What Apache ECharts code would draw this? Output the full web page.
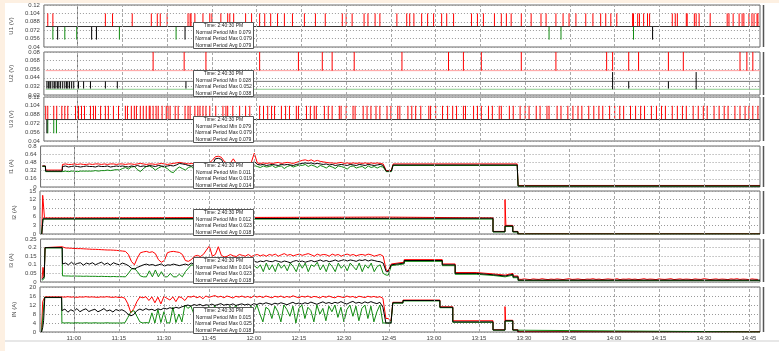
<!DOCTYPE html>
<html>
<head>
<meta charset="utf-8">
<script src="https://cdn.jsdelivr.net/npm/echarts@6/dist/echarts.min.js"></script>
<style>
  html, body { margin: 0; padding: 0; background: #fdf0e2; }
  #main { width: 779px; height: 351px; }
</style>
</head>
<body>
<div id="main"></div>
<script>
// time is in minutes after 11:00
const tickMinutes = [0, 15, 30, 45, 60, 75, 90, 105, 120, 135, 150, 165, 180, 195, 210, 225];
const tickLabels = ['11:00', '11:15', '11:30', '11:45', '12:00', '12:15', '12:30', '12:45',
  '13:00', '13:15', '13:30', '13:45', '14:00', '14:15', '14:30', '14:45'];

const panelNames = ['U1 (V)', 'U2 (V)', 'U3 (V)', 'I1 (A)', 'I2 (A)', 'I3 (A)', 'IN (A)'];
const yMin = [0.04, 0.02, 0.04, 0, 0, 0, 0];
const yMax = [0.12, 0.08, 0.12, 0.8, 15, 0.25, 20];
const yStep = [0.016, 0.012, 0.016, 0.16, 3, 0.05, 4];

// readout boxes
const boxTime = 'Time: 2:40:30 PM';
const boxMin = ['0.079', '0.028', '0.079', '0.011', '0.012', '0.014', '0.015'];
const boxMax = ['0.079', '0.052', '0.079', '0.019', '0.023', '0.023', '0.025'];
const boxAvg = ['0.079', '0.038', '0.079', '0.014', '0.018', '0.018', '0.018'];

const tStart = -10.7, tEnd = 228.7;

// U1: flat level with spikes
const u1Level = 0.079, u1High = 0.104, u1Low = 0.054;
const u1MaxSpikes = [-10, -8.3, 9.3, 11.7, 18.3, 24.7, 26.7, 27.7, 30, 37, 37.7, 38, 39.3, 42, 44.3, 45, 48, 50.3, 51, 52.3,
  56.3, 58.3, 61, 62.7, 64.7, 67, 69.3, 72, 76, 79.7, 83, 88.7, 90, 92, 96, 97.3, 99.7, 101.3, 107, 110.3, 111.3, 112.7,
  115.3, 117.3, 119.3, 122, 123.7, 126, 132, 134, 136, 139.7, 142, 143.7, 145.3, 148.7, 152, 155.3, 157, 160.3, 162.7,
  164.7, 167, 170.3, 172.7, 175.3, 177, 178.7, 180.7, 186, 186.3, 187.7, 188.3, 189.7, 191, 191.7, 199.3, 200.3, 201,
  204, 204.3, 206.7, 207.3, 208.3, 212, 217.7, 218.3, 219.7, 221.7, 222.7, 223.3, 225, 226, 226.7, 227.7, 228];
const u1MinGreenSpikes = [-8.3, -4.3, -0.3, 14, 33, 158, 162, 186.3];
const u1MinBlackSpikes = [-6.7, 4.7, 6.3, 36, 192.7];

// U2
const u2MaxLevel = 0.054, u2MaxHigh = 0.08, u2AvgLevel = 0.039, u2AvgLow = 0.029, u2MinLevel = 0.028, u2TallHigh = 0.052;
const u2MaxSpikes = [25.3, 35.7, 43, 61, 74, 82, 85.3, 92.7, 108.7, 124.3, 129.3, 135.3, 148.7, 160.3,
  177.3, 179.3, 184.7, 188, 198, 203, 222, 224.3, 226.3];
const u2AvgSpikes = [-10.3, -9.8, -9.3, -9, -8.3, -7.8, -7.3, -6.7, -6.3, -5.7, -5, -4.3, -3.7, -3.3, -2.7, -2, -1.3,
  0.3, 2, 4.3, 9.3, 13.3, 36.3, 184.7, 198];
const u2TallSpikes = [179.3, 207.3];

// U3
const u3Level = 0.079, u3High = 0.104, u3Low = 0.054;
const u3MaxSpikes = [-10.7, -10, -8, -7, -5.3, -4.3, -3.3, -0.7, 0.3, 1.3, 2.3, 4.3, 5.3, 6, 7.7, 9.3, 10.3, 12, 13.7,
  16, 16.7, 18, 19, 19.7, 21, 22, 23, 24, 24.3, 25.3, 26.3, 27, 28.3, 29.7, 30.3, 31, 32.7, 33.7, 36, 37, 37.7, 39.3,
  40.3, 41, 42, 43, 44.3, 46.3, 48.7, 49.7, 50.3, 52, 54.3, 56.3, 57.7, 61, 62.3, 63.7, 65, 66, 68.3, 69.7, 71, 73.3,
  74, 76.7, 78, 79.3, 80, 82.7, 84, 85.3, 87.7, 88.3, 90, 92.3, 93, 95.7, 97, 98.3, 100, 101.3, 103.7, 105, 107.3, 108,
  110.7, 112, 113.3, 115, 117.7, 118.3, 120, 122.3, 124, 125.7, 127, 129.3, 130, 132.7, 134, 135.3, 137.7, 139, 141.3,
  142, 144.7, 146, 148.3, 150, 151.3, 153.7, 155, 157.3, 158, 160.7, 162, 164.3, 166, 167.7, 169, 171.3, 173, 174.7,
  176, 178.3, 180, 181.7, 183, 185.3, 187, 188.7, 190, 192.3, 194, 195.7, 197, 199.3, 201, 202.7, 204, 206.3, 208,
  209.7, 211, 213.3, 215, 216.7, 218, 220.3, 222, 223.7, 225, 226.3, 228];
const u3MinGreenSpikes = [-10.0, -8, -7.1];
const u3MinBlackSpikes = [-10.3];

// noisy currents: one value per minute from minute -4 to 104
const minuteStart = -4;

const i1Max = [0.44,0.45,0.44,0.44,0.45,0.44,0.45,0.44,0.44,0.45, 0.44,0.45,0.45,0.44,0.45,0.44,0.45,0.45,0.44,0.45,
  0.45,0.44,0.45,0.45,0.44,0.45,0.46,0.45,0.44,0.45, 0.45,0.44,0.45,0.46,0.45,0.44,0.45,0.46,0.47,0.48,
  0.47,0.46,0.45,0.46,0.45,0.46,0.47,0.46,0.45,0.47, 0.52,0.59,0.60,0.58,0.50,0.46,0.47,0.55,0.46,0.45,
  0.46,0.47,0.46,0.48,0.66,0.47,0.46,0.47,0.46,0.47, 0.46,0.47,0.48,0.46,0.47,0.48,0.47,0.46,0.48,0.50,
  0.52,0.53,0.51,0.53,0.50,0.52,0.50,0.49,0.48,0.47, 0.47,0.46,0.47,0.48,0.46,0.47,0.46,0.47,0.46,0.47,
  0.46,0.47,0.46,0.47,0.46,0.47,0.46,0.45,0.32];
const i1Avg = [0.40,0.41,0.39,0.40,0.41,0.40,0.39,0.40,0.41,0.40, 0.40,0.39,0.41,0.40,0.40,0.41,0.39,0.40,0.41,0.40,
  0.41,0.40,0.39,0.41,0.40,0.42,0.40,0.41,0.40,0.42, 0.41,0.40,0.42,0.41,0.40,0.41,0.42,0.41,0.43,0.46,
  0.45,0.44,0.42,0.41,0.42,0.43,0.42,0.43,0.44,0.42, 0.43,0.55,0.56,0.54,0.44,0.43,0.42,0.44,0.43,0.42,
  0.43,0.44,0.42,0.43,0.50,0.44,0.43,0.44,0.42,0.43, 0.44,0.43,0.42,0.44,0.43,0.44,0.43,0.42,0.44,0.45,
  0.46,0.47,0.46,0.47,0.45,0.46,0.45,0.44,0.45,0.43, 0.44,0.42,0.43,0.44,0.43,0.42,0.44,0.43,0.42,0.44,
  0.43,0.42,0.44,0.43,0.42,0.43,0.44,0.42,0.31];
const i1Min = [0.31,0.31,0.30,0.31,0.31,0.30,0.31,0.31,0.31,0.31, 0.31,0.32,0.31,0.32,0.32,0.33,0.32,0.33,0.34,0.33,
  0.36,0.38,0.35,0.39,0.40,0.34,0.30,0.36,0.40,0.41, 0.38,0.33,0.37,0.40,0.39,0.36,0.30,0.28,0.35,0.39,
  0.36,0.33,0.38,0.40,0.34,0.31,0.37,0.41,0.40,0.38, 0.40,0.41,0.42,0.40,0.39,0.41,0.40,0.38,0.41,0.40,
  0.39,0.41,0.40,0.37,0.42,0.40,0.38,0.41,0.39,0.40, 0.42,0.38,0.40,0.41,0.36,0.40,0.42,0.39,0.41,0.43,
  0.42,0.44,0.40,0.43,0.41,0.38,0.42,0.40,0.37,0.41, 0.39,0.36,0.41,0.40,0.38,0.35,0.40,0.41,0.37,0.39,
  0.40,0.36,0.41,0.38,0.40,0.37,0.40,0.39,0.30];
const i1MaxHead = [[-10.7, 0.41], [-9.7, 0.41], [-9.6, 0.33], [-4.1, 0.33]];
const i1AvgHead = [[-10.7, 0.41], [-9.7, 0.41], [-9.6, 0.31], [-4.1, 0.31]];
const i1MinHead = [[-10.7, 0.40], [-9.7, 0.40], [-9.6, 0.30], [-4.1, 0.30]];
const i1MaxTail = [[104.7, 0.32], [105.7, 0.32], [106.3, 0.45], [147.7, 0.45], [148, 0.03], [228.7, 0.03]];
const i1AvgTail = [[104.7, 0.31], [105.7, 0.31], [106.3, 0.43], [147.7, 0.43], [148, 0.02], [228.7, 0.02]];
const i1MinTail = [[104.7, 0.30], [105.7, 0.30], [106.3, 0.42], [147.7, 0.42], [148, 0.015], [228.7, 0.015]];

// I2: stepwise
const i2Max = [[-10.7, 0], [-10.4, 13.5], [-10.1, 13.5], [-9.8, 5.6], [-4, 5.6], [-4, 5.9], [104, 5.9], [104, 5.6],
  [139.7, 5.6], [139.7, 0.9], [143.7, 0.9], [143.7, 12], [144, 3], [146.3, 3], [146.3, 0.9], [148, 0.9], [148, 0.1], [228.7, 0.1]];
const i2Avg = [[-10.7, 0], [-10.3, 5.3], [-9.8, 5.5], [139.7, 5.5], [139.7, 0.8], [143.7, 0.8], [143.7, 2.8],
  [146.3, 2.8], [146.3, 0.8], [148, 0.8], [148, 0], [228.7, 0]];
const i2Min = [[-10.8, 0], [-10.5, 0], [-10.3, 5.2], [139.7, 5.2], [139.7, 0.7], [143.7, 0.7], [143.7, 2.6],
  [146.3, 2.6], [146.3, 0.7], [148, 0.7], [148, 0], [228.7, 0]];

const i3Max = [0.20,0.198,0.197,0.196,0.195,0.194,0.194,0.193,0.192,0.191, 0.19,0.19,0.189,0.188,0.187,0.186,0.186,0.185,0.184,0.182,
  0.18,0.178,0.16,0.12,0.10,0.14,0.17,0.175,0.178,0.172, 0.176,0.165,0.13,0.115,0.125,0.17,0.176,0.178,0.175,0.172,
  0.16,0.125,0.12,0.13,0.15,0.155,0.148,0.16,0.185,0.21, 0.15,0.16,0.205,0.155,0.145,0.15,0.16,0.152,0.148,0.16,
  0.155,0.15,0.16,0.148,0.155,0.16,0.152,0.158,0.15,0.16, 0.155,0.162,0.15,0.158,0.165,0.155,0.16,0.152,0.158,0.162,
  0.155,0.16,0.165,0.158,0.15,0.162,0.155,0.16,0.158,0.15, 0.162,0.155,0.16,0.15,0.158,0.162,0.155,0.16,0.152,0.158,
  0.16,0.155,0.162,0.158,0.15,0.155,0.16,0.15,0.07];
const i3Avg = [0.105,0.11,0.10,0.115,0.10,0.108,0.112,0.098,0.11,0.104, 0.112,0.10,0.108,0.115,0.102,0.11,0.098,0.112,0.105,0.10,
  0.11,0.104,0.095,0.08,0.075,0.085,0.092,0.10,0.104,0.098, 0.102,0.095,0.10,0.105,0.092,0.10,0.098,0.104,0.10,0.095,
  0.10,0.104,0.098,0.11,0.102,0.108,0.11,0.105,0.112,0.108, 0.11,0.115,0.108,0.112,0.118,0.11,0.115,0.112,0.108,0.115,
  0.112,0.118,0.115,0.11,0.12,0.115,0.122,0.118,0.125,0.12, 0.118,0.125,0.12,0.115,0.122,0.118,0.112,0.12,0.125,0.118,
  0.122,0.115,0.12,0.125,0.118,0.122,0.128,0.12,0.125,0.118, 0.122,0.128,0.12,0.125,0.13,0.122,0.128,0.125,0.12,0.128,
  0.125,0.13,0.122,0.128,0.125,0.12,0.118,0.11,0.06];
const i3Min = [0.036,0.035,0.035,0.034,0.035,0.034,0.034,0.033,0.034,0.033, 0.033,0.033,0.032,0.033,0.032,0.032,0.031,0.032,0.031,0.031,
  0.031,0.03,0.05,0.075,0.08,0.06,0.035,0.03,0.03,0.065, 0.03,0.07,0.03,0.06,0.03,0.03,0.05,0.03,0.03,0.045,
  0.03,0.06,0.08,0.10,0.095,0.07,0.10,0.06,0.09,0.05, 0.08,0.10,0.06,0.09,0.07,0.10,0.05,0.085,0.10,0.06,
  0.09,0.07,0.10,0.06,0.095,0.08,0.10,0.06,0.11,0.07, 0.10,0.06,0.11,0.08,0.10,0.065,0.11,0.09,0.06,0.11,
  0.08,0.11,0.06,0.10,0.09,0.115,0.07,0.10,0.06,0.11, 0.09,0.06,0.11,0.08,0.10,0.065,0.11,0.09,0.07,0.11,
  0.06,0.10,0.08,0.11,0.06,0.09,0.10,0.05,0.04];
const i3MaxHead = [[-10.8, 0.02], [-10.5, 0.085], [-10.1, 0.03], [-9.8, 0.2], [-4.1, 0.205]];
const i3AvgHead = [[-10.8, 0.015], [-10.1, 0.03], [-9.8, 0.2], [-4.1, 0.2]];
const i3MinHead = [[-10.8, 0.01], [-10.1, 0.02], [-9.8, 0.198], [-4.1, 0.198]];
const i3MaxTail = [[104.7, 0.065], [105.7, 0.105], [106.3, 0.115], [110, 0.115], [110, 0.13], [122.7, 0.13], [122.7, 0.105],
  [127, 0.105], [127, 0.055], [134, 0.055], [134, 0.047], [139.7, 0.047], [139.7, 0.04], [143.7, 0.04], [143.7, 0.05],
  [146.3, 0.05], [146.3, 0.035], [148, 0.035]];
const i3MaxLate = [0.017,0.015,0.018,0.016,0.014,0.018,0.016,0.015,0.019,0.016, 0.014,0.017,0.015,0.018,0.016,0.014,0.017,0.019,0.015,0.016,
  0.018,0.015,0.014,0.017,0.016,0.019,0.015,0.017,0.014,0.016, 0.018,0.016,0.015,0.019,0.014,0.017,0.016,0.018,0.015,0.017,
  0.014,0.016,0.019,0.015,0.017,0.016,0.014,0.018,0.016,0.015, 0.017,0.019,0.014,0.016,0.018,0.015,0.017,0.016,0.014,0.018,
  0.016,0.015,0.019,0.017,0.014,0.016,0.018,0.015,0.017,0.016, 0.014,0.018,0.016,0.019,0.015,0.017,0.016,0.014,0.018,0.016, 0.015];
const i3AvgTail = [[104.7, 0.06], [105.7, 0.1], [106.3, 0.11], [110, 0.11], [110, 0.125], [122.7, 0.125], [122.7, 0.1],
  [127, 0.1], [127, 0.05], [134, 0.05], [134, 0.042], [139.7, 0.042], [139.7, 0.035], [143.7, 0.035], [143.7, 0.045],
  [146.3, 0.045], [146.3, 0.03], [148, 0.03], [148, 0.011], [228.7, 0.011]];
const i3MinTail = [[104.7, 0.04], [105.7, 0.095], [106.3, 0.105], [110, 0.105], [110, 0.12], [122.7, 0.12], [122.7, 0.095],
  [127, 0.095], [127, 0.045], [134, 0.045], [134, 0.038], [139.7, 0.038], [139.7, 0.03], [143.7, 0.03], [143.7, 0.04],
  [146.3, 0.04], [146.3, 0.025], [148, 0.025], [148, 0.008], [228.7, 0.008]];

const inMax = [15.6,15.5,15.7,15.5,15.6,15.4,15.6,15.5,15.7,15.5, 15.6,15.5,15.4,15.6,15.5,15.7,15.5,15.4,15.6,15.3,
  15.5,15.0,12.5,8.5,10.5,13.5,15.6,15.2,15.7,14.0, 15.6,13.0,15.5,12.5,15.8,15.0,14.2,15.6,13.5,15.7,
  15.2,14.0,15.8,15.5,16.0,15.2,15.8,14.8,16.0,15.4, 15.8,16.2,15.5,15.9,15.2,16.0,15.6,15.1,15.9,15.5,
  16.0,15.4,15.8,15.2,16.1,15.5,15.9,15.3,16.0,15.6, 15.2,15.9,15.5,16.0,15.3,15.8,15.4,16.1,15.6,15.2,
  15.9,15.5,16.0,15.3,15.8,15.6,15.1,15.9,15.4,16.0, 15.5,15.2,15.9,15.6,15.3,16.0,15.5,15.8,15.2,15.9,
  15.6,15.3,15.9,15.5,15.8,15.4,15.7,15.0,6.0];
const inAvg = [9.5,10.2,8.8,9.9,9.2,10.4,9.0,9.8,10.3,9.1, 9.7,10.1,9.0,9.6,10.4,9.3,9.8,8.9,10.0,9.5,
  9.9,9.2,8.0,7.2,7.8,9.5,10.2,9.6,10.4,9.8, 10.1,9.5,10.3,9.9,10.6,10.2,10.8,10.4,11.0,10.6,
  11.2,11.6,12.0,11.5,12.2,11.8,12.3,11.6,12.1,11.9, 12.4,11.8,12.2,12.6,11.9,12.3,12.0,12.5,11.8,12.2,
  12.5,12.0,12.4,11.8,12.6,12.2,12.8,12.4,13.0,12.6, 12.2,12.8,12.4,13.0,12.6,12.1,12.7,13.2,12.5,12.9,
  12.4,13.0,12.6,13.3,12.8,12.3,12.9,13.4,12.7,13.1, 12.6,13.2,12.8,13.5,12.9,12.4,13.1,13.6,12.8,13.2,
  12.7,13.4,12.9,13.5,13.0,12.6,13.2,11.0,4.0];
const inMin = [4.1,4.0,4.1,4.0,4.0,4.1,4.0,4.0,4.1,4.0, 4.0,4.1,4.0,4.0,4.0,4.1,4.0,4.0,4.0,4.0,
  4.0,4.1,6.5,9.0,9.5,7.0,4.5,4.0,4.2,4.0, 8.5,4.0,10.0,4.2,9.0,4.0,4.1,11.0,4.2,8.0,
  4.5,12.0,10.5,11.5,8.0,11.0,4.5,10.5,5.0,11.5, 9.0,11.8,6.0,11.0,10.5,4.5,11.5,9.5,12.0,7.0,
  11.0,10.0,5.0,11.5,9.0,12.0,8.0,4.5,11.0,10.0, 6.0,11.5,9.0,4.5,12.0,10.0,7.0,11.5,4.0,10.5,
  12.0,6.0,11.0,9.5,4.5,12.0,8.0,10.5,5.0,11.5, 9.0,12.0,6.5,11.0,4.5,10.0,12.0,7.0,11.5,5.0,
  10.5,12.0,6.0,11.5,4.5,9.0,12.0,4.0,4.0];
const inMaxHead = [[-10.8, 0], [-10.4, 13.5], [-10.0, 13], [-9.7, 15.6], [-4.1, 15.6]];
const inAvgHead = [[-10.8, 0], [-10.4, 2], [-10.1, 5], [-9.7, 15.4], [-4.1, 15.4]];
const inMinHead = [[-10.8, 0], [-10.3, 0], [-9.8, 15.3], [-4.1, 15.3]];
const inMaxTail = [[104.7, 6], [105.7, 5], [106.3, 13.2], [109.7, 13.2], [109.7, 14.2], [122, 14.2], [122, 11.2], [126.3, 11.2],
  [126.3, 5], [139.7, 5], [139.7, 1], [143.7, 1], [143.7, 11.3], [143.9, 5.2], [146.3, 5.2], [146.3, 1], [148, 1], [148, 0.1], [228.7, 0.1]];
const inAvgTail = [[104.7, 4], [105.7, 4], [106.3, 13], [109.7, 13], [109.7, 14], [122, 14], [122, 11], [126.3, 11],
  [126.3, 4.5], [139.7, 4.5], [139.7, 0.9], [143.7, 0.9], [143.7, 5], [146.3, 5], [146.3, 0.9], [148, 0.9], [148, 0], [228.7, 0]];
const inMinTail = [[104.7, 4], [105.7, 4], [106.3, 12.8], [109.7, 12.8], [109.7, 13.8], [122, 13.8], [122, 10.8], [126.3, 10.8],
  [126.3, 4.3], [139.7, 4.3], [139.7, 0.8], [143.7, 0.8], [143.7, 4.8], [146.3, 4.8], [146.3, 0.8], [148, 0.8], [148, 0], [228.7, 0]];

// ---------- helpers ----------
const RED = '#ff0000', GREEN = '#108a10', BLACK = '#000000';

function spikes(times, from, to) {
  const d = [];
  times.forEach(t => { d.push([t, from], [t, to], [t, null]); });
  return d;
}
function flat(v) { return [[tStart, v], [tEnd, v]]; }
function joined(head, vals, tail, late) {
  const d = head.concat(vals.map((v, i) => [minuteStart + i, v]), tail);
  if (late) late.forEach((v, i) => d.push([148 + i, v]));
  return d;
}

const grids = [
  { top: 5, height: 42 }, { top: 52, height: 43 }, { top: 97, height: 44 }, { top: 146, height: 41 },
  { top: 191, height: 43 }, { top: 239, height: 43 }, { top: 287, height: 45 }
];

const panelSeries = [
  [
    [spikes(u1MaxSpikes, u1Level, u1High), RED],
    [spikes(u1MinGreenSpikes, u1Level, u1Low), GREEN],
    [spikes(u1MinBlackSpikes, u1Level, u1Low), BLACK],
    [flat(u1Level), '#333']
  ],
  [
    [flat(u2MaxLevel), '#ffa0a0'],
    [spikes(u2MaxSpikes, u2MaxLevel, u2MaxHigh), RED],
    [flat(u2MinLevel), '#8ccc8c'],
    [flat(u2AvgLevel), '#777'],
    [spikes(u2AvgSpikes, u2AvgLevel, u2AvgLow), BLACK],
    [spikes(u2TallSpikes, u2TallHigh, u2MinLevel), BLACK]
  ],
  [
    [spikes(u3MaxSpikes, u3Level, u3High), RED],
    [spikes(u3MinGreenSpikes, u3Level, u3Low), GREEN],
    [spikes(u3MinBlackSpikes, u3Level, u3Low), BLACK],
    [flat(u3Level), '#333']
  ],
  [
    [joined(i1MaxHead, i1Max, i1MaxTail), RED],
    [joined(i1MinHead, i1Min, i1MinTail), GREEN],
    [joined(i1AvgHead, i1Avg, i1AvgTail), BLACK]
  ],
  [
    [i2Max, RED], [i2Min, GREEN], [i2Avg, BLACK]
  ],
  [
    [joined(i3MaxHead, i3Max, i3MaxTail, i3MaxLate), RED],
    [joined(i3MinHead, i3Min, i3MinTail), GREEN],
    [joined(i3AvgHead, i3Avg, i3AvgTail), BLACK]
  ],
  [
    [joined(inMaxHead, inMax, inMaxTail), RED],
    [joined(inMinHead, inMin, inMinTail), GREEN],
    [joined(inAvgHead, inAvg, inAvgTail), BLACK]
  ]
];

const series = [];
panelSeries.forEach((list, p) => {
  list.forEach(([data, color], k) => {
    const s = {
      type: 'line', xAxisIndex: p, yAxisIndex: p, data: data,
      showSymbol: false, symbol: 'none', silent: true, connectNulls: false,
      lineStyle: { color: color, width: 1 }, itemStyle: { color: color }
    };
    if (k === 0) {
      s.markLine = {
        silent: true, symbol: 'none', label: { show: false },
        lineStyle: { type: [3, 2], color: '#a8a8a8', width: 1 },
        data: tickMinutes.map(m => ({ xAxis: m }))
      };
    }
    series.push(s);
  });
});

const xAxes = grids.map((g, i) => ({
  type: 'value', gridIndex: i, min: -11.3, max: 228.7,
  splitLine: { show: false },
  axisLine: { show: false },
  axisTick: i === 6 ? { show: true, inside: true, length: 2, customValues: tickMinutes, lineStyle: { color: '#666' } } : { show: false },
  axisLabel: i === 6 ? {
    show: true, fontSize: 6, color: '#444', margin: 3,
    customValues: tickMinutes,
    formatter: v => tickLabels[tickMinutes.indexOf(Math.round(v))] || ''
  } : { show: false }
}));

const yAxes = grids.map((g, i) => ({
  type: 'value', gridIndex: i, min: yMin[i], max: yMax[i], interval: yStep[i],
  name: panelNames[i], nameLocation: 'middle', nameGap: 23, nameRotate: 90,
  nameTextStyle: { fontSize: 6, color: '#444', fontFamily: 'Liberation Sans' },
  axisLine: { show: true, lineStyle: { color: '#777' } },
  axisTick: { show: false },
  axisLabel: { fontSize: 6, color: '#444', margin: 4, fontFamily: 'Liberation Sans',
    formatter: v => String(+v.toFixed(3)) },
  splitLine: { show: true, lineStyle: { type: [1, 2], color: '#9a9a9a', width: 1 } }
}));

const graphics = [
  { type: 'rect', shape: { x: 5, y: 3, width: 774, height: 348 }, style: { fill: '#ffffff' }, z: -10, silent: true },
  { type: 'line', shape: { x1: 5, y1: 341, x2: 779, y2: 341 }, style: { stroke: '#cfcfcf', lineWidth: 1 }, silent: true }
];
grids.forEach((g, i) => {
  const bottom = g.top + g.height;
  graphics.push({ type: 'line', shape: { x1: 763.5, y1: g.top, x2: 763.5, y2: bottom }, style: { stroke: '#555', lineWidth: 1.5 }, silent: true });
  const bx = 193.5, bh = 26, by = bottom - bh + 1.5, bw = 60;
  const rows = [boxTime, 'Normal Period Min ' + boxMin[i], 'Normal Period Max ' + boxMax[i], 'Normal Period Avg ' + boxAvg[i]];
  graphics.push({ type: 'rect', shape: { x: bx, y: by, width: bw, height: bh }, style: { fill: '#fff', stroke: '#555', lineWidth: 1 }, z: 50, silent: true });
  rows.forEach((r, k) => {
    graphics.push({ type: 'text', x: bx + bw / 2, y: by + 3.5 + k * 6.4, z: 51, silent: true,
      style: { text: r, fontSize: 5, fill: '#222', align: 'center', verticalAlign: 'middle', fontFamily: 'Liberation Sans' } });
  });
});

const chart = echarts.init(document.getElementById('main'), null, { renderer: 'canvas' });
chart.setOption({
  animation: false,
  backgroundColor: 'transparent',
  grid: grids.map(g => ({ left: 40, right: 19, top: g.top, height: g.height, show: true, borderColor: '#6a6a6a', borderWidth: 1 })),
  xAxis: xAxes,
  yAxis: yAxes,
  series: series,
  graphic: graphics
});
</script>
</body>
</html>
